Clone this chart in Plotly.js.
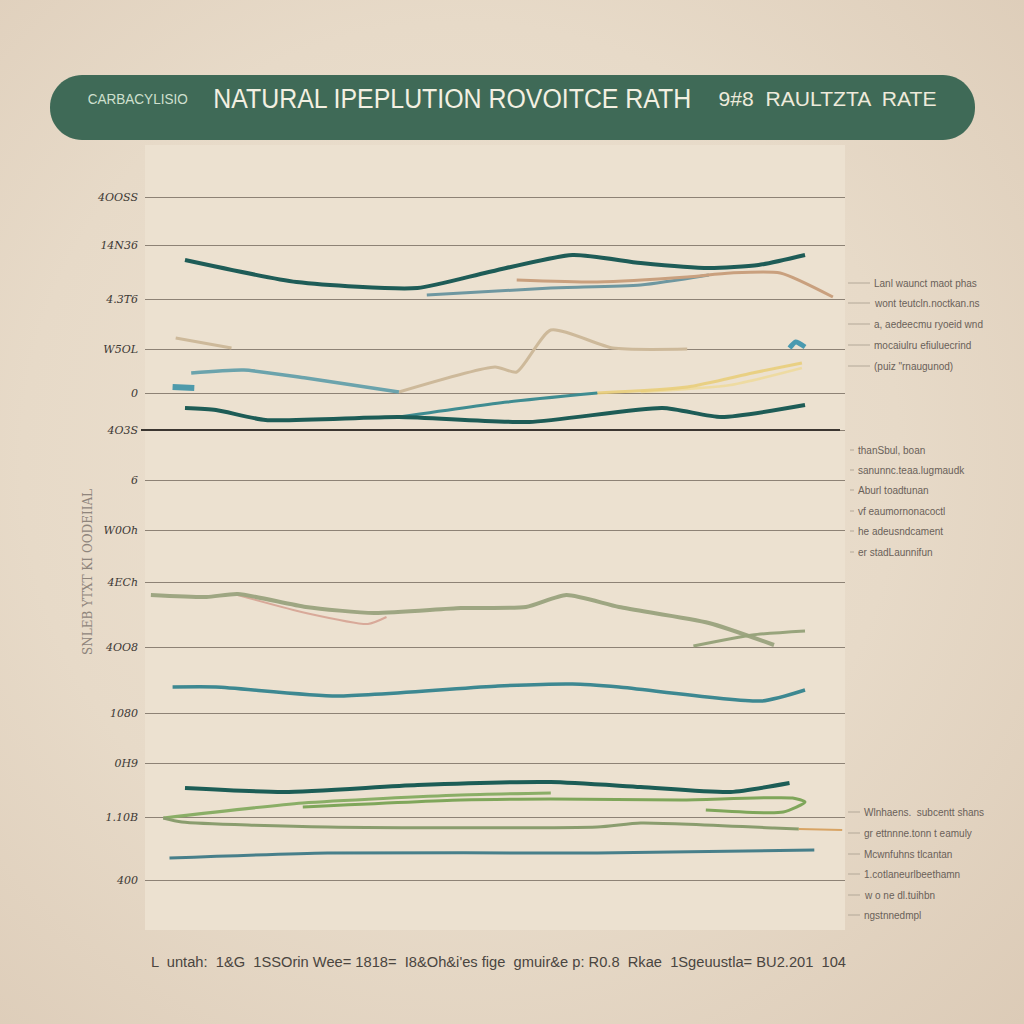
<!DOCTYPE html>
<html>
<head>
<meta charset="utf-8">
<script src="https://cdn.plot.ly/plotly-3.0.1.min.js"></script>
<style>
  html, body { margin:0; padding:0; width:1024px; height:1024px; overflow:hidden;
    background: radial-gradient(ellipse at 45% 45%, #ede2d2 0%, #e7dac8 55%, #dccbb7 100%); }
  #chart { width:1024px; height:1024px; }
</style>
</head>
<body>
<div id="chart"></div>
<script>
// ---------------- DATA ----------------
// Upper panel series
const years_A = [2000.0, 2003.6, 2007.5, 2009.8, 2012.5, 2014.7, 2016.9, 2018.5, 2020.0];
const vals_A  = [67.0, 64.8, 64.2, 65.8, 67.5, 66.7, 66.2, 66.5, 67.5];
const years_B = [2010.7, 2013.3, 2016.2, 2017.6, 2019.2, 2020.9];
const vals_B  = [65.0, 64.8, 65.3, 65.7, 65.7, 63.3];
const years_C = [2007.8, 2011.8, 2014.7, 2016.9];
const vals_C  = [63.5, 64.2, 64.5, 65.5];
const years_D = [1999.7, 2001.5, null, 2006.9, 2010.0, 2010.7, 2011.8, 2013.8, 2016.2];
const vals_D  = [59.2, 58.2, null, 53.8, 56.3, 55.8, 60.0, 58.2, 58.1];
const years_E = [2000.2, 2001.9, 2003.9, 2006.9];
const vals_E  = [55.7, 56.0, 55.2, 53.8];
const years_E2 = [1999.6, 2000.3];
const vals_E2  = [54.3, 54.2];
const years_E3 = [2019.5, 2019.7, 2020.0];
const vals_E3  = [58.2, 58.8, 58.3];
const years_F = [2013.3, 2016.2, 2018.3, 2019.9];
const vals_F  = [53.7, 54.3, 55.7, 56.7];
const years_F2 = [2014.7, 2017.6, 2019.9];
const vals_F2  = [53.8, 54.5, 56.2];
const years_H = [2000.0, 2001.0, 2002.6, 2006.9, 2011.1, 2015.4, 2017.3, 2020.0];
const vals_H  = [52.2, 52.0, 51.0, 51.3, 50.8, 52.2, 51.3, 52.5];
const years_I = [2006.9, 2010.4, 2013.3];
const vals_I  = [51.3, 52.8, 53.7];
// Lower panel series
const years_J = [1998.9, 2000.7, 2001.7, 2003.9, 2006.1, 2008.9, 2011.0, 2012.3, 2014.0, 2016.9, 2019.0];
const vals_J  = [33.5, 33.3, 33.6, 32.3, 31.7, 32.2, 32.3, 33.5, 32.3, 30.7, 28.5];
const years_J2 = [2016.4, 2018.3, 2020.0];
const vals_J2  = [28.4, 29.5, 29.9];
const years_P = [2001.7, 2003.9, 2005.9, 2006.5];
const vals_P  = [33.5, 31.7, 30.6, 31.3];
const years_K = [1999.6, 2001.0, 2004.9, 2010.1, 2012.5, 2014.0, 2018.6, 2020.0];
const vals_K  = [24.3, 24.3, 23.4, 24.4, 24.6, 24.3, 22.9, 24.0];
const years_L = [2000.0, 2003.2, 2007.5, 2011.8, 2014.7, 2017.6, 2019.5];
const vals_L  = [14.2, 13.8, 14.5, 14.8, 14.3, 13.8, 14.7];
const years_M = [1999.3, 2003.8, 2008.9, 2011.8];
const vals_M  = [11.2, 12.7, 13.5, 13.7];
const years_M2 = [2003.8, 2008.9, 2011.8, 2016.0, 2019.6, 2020.0, 2019.3, 2016.8];
const vals_M2  = [12.3, 13.0, 13.1, 13.0, 13.2, 12.8, 11.8, 12.0];
const years_N = [1999.3, 1999.9, 2004.6, 2013.3, 2014.7, 2019.0, 2019.8];
const vals_N  = [11.2, 10.8, 10.3, 10.3, 10.7, 10.2, 10.1];
const years_N2 = [2019.8, 2021.2];
const vals_N2  = [10.1, 10.0];
const years_O = [1999.5, 2004.6, 2013.3, 2020.3];
const vals_O  = [7.2, 7.7, 7.7, 8.0];

// Axis tick labels
const yTickVals  = [73.3, 68.5, 63.1, 58.1, 53.7, 50.0, 45.0, 40.0, 34.8, 28.3, 21.7, 16.7, 11.3, 5.0];
const yTickTexts = ["4OOSS", "14N36", "4.3T6", "W5OL", "0", "4O3S", "6", "W0Oh", "4ECh", "4OO8", "1080", "0H9", "1.10B", "400"];

// Text content
const titleSmall = "CARBACYLISIO";
const titleMain  = "NATURAL IPEPLUTION ROVOITCE RATH";
const titleTail  = "9#8  RAULTZTA  RATE";
const yTitle     = "SNLEB YTXT KI OODEIIAL";
const legend1 = ["Lanl waunct maot phas", "wont teutcln.noctkan.ns", "a, aedeecmu ryoeid wnd", "mocaiulru efiuluecrind", "(puiz \"rnaugunod)"];
const legend2 = ["thanSbul, boan", "sanunnc.teaa.lugmaudk", "Aburl toadtunan", "vf eaumornonacoctl", "he adeusndcament", "er stadLaunnifun"];
const legend3 = ["Wlnhaens.  subcentt shans", "gr ettnnne.tonn t eamuly", "Mcwnfuhns tlcantan", "1.cotlaneurlbeethamn", "w o ne dl.tuihbn", "ngstnnedmpl"];
const footer = "L  untah:  1&G  1SSOrin Wee= 1818=  I8&Oh&i'es fige  gmuir&e p: R0.8  Rkae  1Sgeuustla= BU2.201  104";

// ---------------- CHART ----------------
const L = 145, R = 845, T = 145, B = 930;
const px2x = p => (p - L) / (R - L);
const py2y = p => (B - p) / (B - T);

function tr(x, y, color, width, opacity) {
  return { x: x, y: y, type: 'scatter', mode: 'lines', connectgaps: false,
    line: { color: color, width: width, shape: 'spline', smoothing: 0.6 },
    opacity: opacity === undefined ? 1 : opacity, hoverinfo: 'skip', showlegend: false };
}

const traces = [
  tr(years_F2, vals_F2, '#f0d98e', 2.5, 0.7),
  tr(years_F, vals_F, '#e9cc76', 3, 0.85),
  tr(years_I, vals_I, '#3f8c91', 3),
  tr(years_H, vals_H, '#1d5c56', 4),
  tr(years_D, vals_D, '#cdb99a', 3),
  tr(years_E, vals_E, '#6ba3ac', 3.5),
  tr(years_E2, vals_E2, '#4e9aab', 6),
  tr(years_E3, vals_E3, '#4a9ab0', 5),
  tr(years_C, vals_C, '#6e97a0', 3),
  tr(years_B, vals_B, '#c9a07e', 3),
  tr(years_A, vals_A, '#1e5c57', 4),
  tr(years_P, vals_P, '#d8a999', 2),
  tr(years_J, vals_J, '#9ea682', 4),
  tr(years_J2, vals_J2, '#98a47c', 3),
  tr(years_K, vals_K, '#3d8891', 3.5),
  tr(years_L, vals_L, '#1c5d56', 4),
  tr(years_M, vals_M, '#8aae66', 3),
  tr(years_M2, vals_M2, '#7fa65a', 3),
  tr(years_N, vals_N, '#8a9d6e', 3),
  tr(years_N2, vals_N2, '#d8a464', 2),
  tr(years_O, vals_O, '#477f8a', 3)
];

const fontSans = '"Liberation Sans", Arial, sans-serif';

const shapes = [];
const annotations = [];
const fitWidths = {}; // annotation index -> target pixel width (centered texts only)

function addAnn(a, width) {
  annotations.push(a);
  if (width) fitWidths[annotations.length - 1] = width;
}

// Title banner (rounded rectangle)
(function () {
  const x0 = px2x(50), x1 = px2x(975), y0 = py2y(140), y1 = py2y(75);
  const rx = 32 / (R - L), ry = 32 / (B - T);
  const k = 0.45;
  const path = `M ${x0 + rx} ${y0} L ${x1 - rx} ${y0} C ${x1 - rx * k} ${y0} ${x1} ${y0 + ry * k} ${x1} ${y0 + ry} ` +
    `L ${x1} ${y1 - ry} C ${x1} ${y1 - ry * k} ${x1 - rx * k} ${y1} ${x1 - rx} ${y1} ` +
    `L ${x0 + rx} ${y1} C ${x0 + rx * k} ${y1} ${x0} ${y1 - ry * k} ${x0} ${y1 - ry} ` +
    `L ${x0} ${y0 + ry} C ${x0} ${y0 + ry * k} ${x0 + rx * k} ${y0} ${x0 + rx} ${y0} Z`;
  shapes.push({ type: 'path', xref: 'paper', yref: 'paper', path: path,
    fillcolor: '#3f6a57', line: { width: 0 }, layer: 'above' });
})();

// Thick separator line
shapes.push({ type: 'line', xref: 'paper', yref: 'paper', x0: px2x(141), x1: px2x(840), y0: py2y(430), y1: py2y(430),
  line: { color: '#3b3631', width: 2 } });

addAnn({ xref: 'paper', yref: 'paper', x: px2x(138), y: py2y(99), text: titleSmall, showarrow: false, borderpad: 0,
  font: { family: fontSans, size: 14, color: '#cfe0cf' }, xanchor: 'center', yanchor: 'middle' }, 100);
addAnn({ xref: 'paper', yref: 'paper', x: px2x(452), y: py2y(99), text: titleMain, showarrow: false, borderpad: 0,
  font: { family: fontSans, size: 27, color: '#f3f0e2' }, xanchor: 'center', yanchor: 'middle' }, 478);
addAnn({ xref: 'paper', yref: 'paper', x: px2x(827), y: py2y(98), text: titleTail, showarrow: false, borderpad: 0,
  font: { family: fontSans, size: 21, color: '#eeeadb' }, xanchor: 'center', yanchor: 'middle' }, 218);

// Y title (rotated)
addAnn({ xref: 'paper', yref: 'paper', x: px2x(88), y: py2y(572), text: yTitle, showarrow: false, textangle: -90,
  font: { family: '"DejaVu Serif", serif', size: 12, color: '#8f857c' }, xanchor: 'center', yanchor: 'middle' });

// Legend groups with leader lines
function legendGroup(items, ys, textX, lineX0) {
  items.forEach((t, i) => {
    addAnn({ xref: 'paper', yref: 'paper', x: px2x(textX), y: py2y(ys[i]), text: t, showarrow: false,
      font: { family: fontSans, size: 10, color: '#6a6159' }, xanchor: 'left', yanchor: 'middle' });
    shapes.push({ type: 'line', xref: 'paper', yref: 'paper', x0: px2x(lineX0), x1: px2x(textX - 2),
      y0: py2y(ys[i]), y1: py2y(ys[i]), line: { color: '#b3a898', width: 1 } });
  });
}
legendGroup(legend1, [283, 303, 324, 345, 366], 872, 848);
legendGroup(legend2, [450, 470, 490, 511, 531, 552], 856, 850);
legendGroup(legend3, [812, 833, 854, 874, 895, 915], 862, 848);

// Footer
addAnn({ xref: 'paper', yref: 'paper', x: px2x(498), y: py2y(962), text: footer, showarrow: false,
  font: { family: fontSans, size: 14, color: '#4a4540' }, xanchor: 'center', yanchor: 'middle' }, 695);

const layout = {
  width: 1024, height: 1024,
  margin: { l: L, r: 1024 - R, t: T, b: 1024 - B, pad: 0 },
  paper_bgcolor: 'rgba(0,0,0,0)',
  plot_bgcolor: '#ece1d0',
  xaxis: { range: [1998.71, 2021.29], showgrid: false, zeroline: false, showticklabels: false, ticks: '', showline: false, fixedrange: true },
  yaxis: { range: [0, 78.5], tickmode: 'array', tickvals: yTickVals, ticktext: yTickTexts,
    showgrid: true, gridcolor: '#8d8275', gridwidth: 1, zeroline: false, showline: false, ticks: '',
    ticklabelstandoff: 6,
    tickfont: { family: '"DejaVu Serif", serif', size: 11, color: '#3d3935', style: 'italic' } },
  shapes: shapes,
  annotations: annotations,
  showlegend: false
};

Plotly.newPlot('chart', traces, layout, { displayModeBar: false, staticPlot: true }).then(function () {
  // Fine-tune widths of centered texts to the reference
  document.querySelectorAll('#chart g.annotation').forEach(function (g) {
    const idx = +g.getAttribute('data-index');
    const w = fitWidths[idx];
    if (!w) return;
    const txt = g.querySelector('text.annotation-text');
    if (!txt) return;
    txt.setAttribute('textLength', w);
    txt.setAttribute('lengthAdjust', 'spacingAndGlyphs');
  });
});
</script>
</body>
</html>
